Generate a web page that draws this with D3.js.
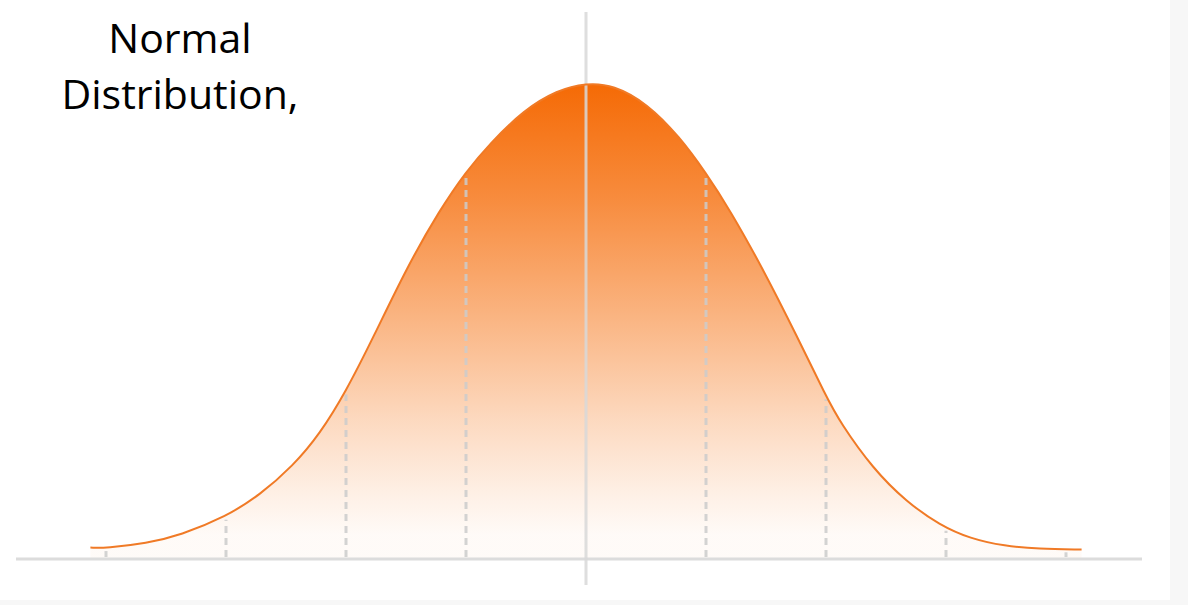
<!DOCTYPE html>
<html>
<head>
<meta charset="utf-8">
<script src="https://cdn.jsdelivr.net/npm/d3@7"></script>
<style>
  body { margin: 0; background: #f7f7f7; }
</style>
</head>
<body>
<div id="container"></div>
<script>
// curve: x in standard deviations, height relative to the peak
let sigmaX = [-4.13, -4.0, -3.66, -3.38, -3.0, -2.72, -2.44, -2.22, -2.0, -1.77, -1.49, -1.22, -1.0, -0.8, -0.52, -0.24,
              0, 0.23, 0.51, 0.78, 1.0, 1.2, 1.48, 1.76, 2.0, 2.12, 2.39, 2.67, 2.95, 3.2, 3.49, 3.77, 4.13];
let density = [0.024, 0.023, 0.033, 0.050, 0.089, 0.134, 0.196, 0.262, 0.352, 0.467, 0.614, 0.733, 0.814, 0.873, 0.943, 0.985,
               1.0, 0.996, 0.957, 0.887, 0.811, 0.733, 0.607, 0.467, 0.342, 0.286, 0.190, 0.120, 0.071, 0.043, 0.027, 0.021, 0.020];

// dashed guide lines at each standard deviation
let guideX = [-4, -3, -2, -1, 1, 2, 3, 4];

let titleLines = ["Normal", "Distribution,"];

let w = 1188;
let h = 605;

let viz = d3.select("#container")
  .append("svg")
  .attr("width", w)
  .attr("height", h)
  .style("display", "block");

// white card, faint grey shows to the right and below
viz.append("rect")
  .attr("x", 0).attr("y", 0)
  .attr("width", 1170).attr("height", 600)
  .attr("fill", "white");

let xScale = d3.scaleLinear()
  .domain([-4, 4])
  .range([106, 1066]);

let yScale = d3.scaleLinear()
  .domain([0, 1])
  .range([559, 83]);

let points = sigmaX.map((x, i) => ({x: x, y: density[i]}));

// vertical fade for the area
let defs = viz.append("defs");
let grad = defs.append("linearGradient")
  .attr("id", "fade")
  .attr("gradientUnits", "userSpaceOnUse")
  .attr("x1", 0).attr("x2", 0)
  .attr("y1", yScale(1)).attr("y2", 535);
let stops = [
  [0, 1], [0.25, 0.78], [0.5, 0.52], [0.75, 0.25], [0.9, 0.11], [1, 0.03]
];
grad.selectAll("stop")
  .data(stops)
  .enter()
  .append("stop")
  .attr("offset", d => d[0])
  .attr("stop-color", "#f56a05")
  .attr("stop-opacity", d => d[1]);

let areaMaker = d3.area()
  .x(d => xScale(d.x))
  .y0(yScale(0))
  .y1(d => yScale(d.y))
  .curve(d3.curveBasis);

let lineMaker = d3.line()
  .x(d => xScale(d.x))
  .y(d => yScale(d.y))
  .curve(d3.curveBasis);

viz.append("path")
  .datum(points)
  .attr("fill", "url(#fade)")
  .attr("d", areaMaker);

// baseline
viz.append("line")
  .attr("x1", 16).attr("x2", 1142)
  .attr("y1", yScale(0)).attr("y2", yScale(0))
  .attr("stroke", "#dcdcdc")
  .attr("stroke-width", 3);

// height of the curve at x, straight between read points (only for guide ends)
let curveAt = function(x) {
  let i = d3.bisector(d => d.x).left(points, x);
  if (i <= 0) return points[0].y;
  let a = points[i - 1], b = points[i];
  if (b.x == x) return b.y;
  let t = (x - a.x) / (b.x - a.x);
  return a.y + t * (b.y - a.y);
};

viz.selectAll(".guide")
  .data(guideX)
  .enter()
  .append("line")
  .attr("class", "guide")
  .attr("x1", d => xScale(d)).attr("x2", d => xScale(d))
  .attr("y1", yScale(0) - 2)
  .attr("y2", d => yScale(curveAt(d)) + 3)
  .attr("stroke", "#cbcbcb")
  .attr("stroke-opacity", 0.85)
  .attr("stroke-width", 3)
  .attr("stroke-dasharray", "7,5");

// centre axis
viz.append("line")
  .attr("x1", xScale(0)).attr("x2", xScale(0))
  .attr("y1", 12).attr("y2", 585)
  .attr("stroke", "#d8d8d8")
  .attr("stroke-opacity", 0.85)
  .attr("stroke-width", 3);

viz.append("path")
  .datum(points)
  .attr("fill", "none")
  .attr("stroke", "#f07a26")
  .attr("stroke-width", 2)
  .attr("d", lineMaker);

viz.selectAll(".title")
  .data(titleLines)
  .enter()
  .append("text")
  .attr("class", "title")
  .attr("x", 180)
  .attr("y", (d, i) => 53 + i * 56)
  .attr("text-anchor", "middle")
  .style("font-family", "'Open Sans', sans-serif")
  .style("font-size", "41px")
  .style("fill", "#000")
  .text(d => d);
</script>
</body>
</html>
